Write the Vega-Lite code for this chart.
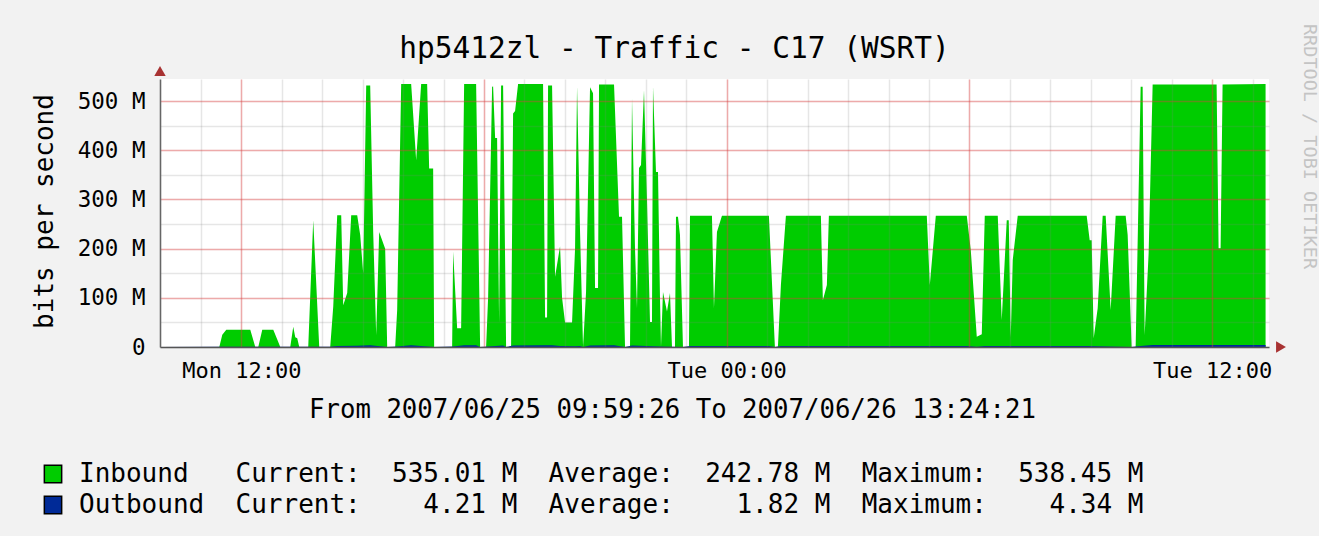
{
  "$schema": "https://vega.github.io/schema/vega-lite/v6.json",
  "width": 1109,
  "height": 268,
  "autosize": {"type": "none"},
  "padding": {"left": 160, "top": 79, "right": 50, "bottom": 189},
  "background": "#f2f2f2",
  "config": {
    "font": "DejaVu Sans Mono",
    "view": {"stroke": null, "fill": "#ffffff"}
  },
  "title": {
    "text": "hp5412zl - Traffic - C17 (WSRT)",
    "font": "DejaVu Sans Mono",
    "fontSize": 29.5,
    "fontWeight": "normal",
    "color": "#000000",
    "anchor": "middle",
    "frame": "group",
    "dx": -40,
    "offset": -41
  },
  "datasets": {
    "inbound": [
      {"t": "2007-06-25T09:59:26", "v": 0},
      {"t": "2007-06-25T11:27:23", "v": 0},
      {"t": "2007-06-25T11:31:50", "v": 25},
      {"t": "2007-06-25T11:37:46", "v": 35},
      {"t": "2007-06-25T12:13:20", "v": 35},
      {"t": "2007-06-25T12:20:45", "v": 0},
      {"t": "2007-06-25T12:25:12", "v": 0},
      {"t": "2007-06-25T12:31:08", "v": 35},
      {"t": "2007-06-25T12:47:26", "v": 35},
      {"t": "2007-06-25T12:53:22", "v": 15},
      {"t": "2007-06-25T12:57:48", "v": 0},
      {"t": "2007-06-25T13:12:38", "v": 0},
      {"t": "2007-06-25T13:17:04", "v": 41},
      {"t": "2007-06-25T13:20:02", "v": 20},
      {"t": "2007-06-25T13:23:00", "v": 18},
      {"t": "2007-06-25T13:25:58", "v": 0},
      {"t": "2007-06-25T13:39:18", "v": 0},
      {"t": "2007-06-25T13:46:43", "v": 258},
      {"t": "2007-06-25T13:55:37", "v": 0},
      {"t": "2007-06-25T14:11:55", "v": 0},
      {"t": "2007-06-25T14:16:22", "v": 82},
      {"t": "2007-06-25T14:22:17", "v": 268},
      {"t": "2007-06-25T14:28:13", "v": 268},
      {"t": "2007-06-25T14:31:11", "v": 85},
      {"t": "2007-06-25T14:37:07", "v": 110},
      {"t": "2007-06-25T14:43:02", "v": 268},
      {"t": "2007-06-25T14:51:56", "v": 268},
      {"t": "2007-06-25T14:56:23", "v": 228},
      {"t": "2007-06-25T15:00:50", "v": 150},
      {"t": "2007-06-25T15:05:17", "v": 532},
      {"t": "2007-06-25T15:11:12", "v": 532},
      {"t": "2007-06-25T15:15:39", "v": 234},
      {"t": "2007-06-25T15:20:06", "v": 24},
      {"t": "2007-06-25T15:24:32", "v": 234},
      {"t": "2007-06-25T15:33:26", "v": 200},
      {"t": "2007-06-25T15:36:24", "v": 0},
      {"t": "2007-06-25T15:48:16", "v": 0},
      {"t": "2007-06-25T15:51:13", "v": 75},
      {"t": "2007-06-25T15:57:09", "v": 535},
      {"t": "2007-06-25T16:11:58", "v": 535},
      {"t": "2007-06-25T16:19:23", "v": 380},
      {"t": "2007-06-25T16:26:48", "v": 535},
      {"t": "2007-06-25T16:35:41", "v": 535},
      {"t": "2007-06-25T16:38:39", "v": 363},
      {"t": "2007-06-25T16:44:35", "v": 363},
      {"t": "2007-06-25T16:46:04", "v": 0},
      {"t": "2007-06-25T17:12:44", "v": 0},
      {"t": "2007-06-25T17:14:14", "v": 194},
      {"t": "2007-06-25T17:20:10", "v": 38},
      {"t": "2007-06-25T17:26:05", "v": 38},
      {"t": "2007-06-25T17:30:32", "v": 535},
      {"t": "2007-06-25T17:48:19", "v": 535},
      {"t": "2007-06-25T17:54:15", "v": 0},
      {"t": "2007-06-25T18:03:08", "v": 0},
      {"t": "2007-06-25T18:06:06", "v": 100},
      {"t": "2007-06-25T18:12:02", "v": 529},
      {"t": "2007-06-25T18:13:31", "v": 530},
      {"t": "2007-06-25T18:16:29", "v": 425},
      {"t": "2007-06-25T18:19:26", "v": 425},
      {"t": "2007-06-25T18:22:25", "v": 50},
      {"t": "2007-06-25T18:25:22", "v": 532},
      {"t": "2007-06-25T18:28:20", "v": 532},
      {"t": "2007-06-25T18:32:47", "v": 0},
      {"t": "2007-06-25T18:40:11", "v": 0},
      {"t": "2007-06-25T18:43:10", "v": 475},
      {"t": "2007-06-25T18:46:07", "v": 480},
      {"t": "2007-06-25T18:50:34", "v": 535},
      {"t": "2007-06-25T19:27:37", "v": 535},
      {"t": "2007-06-25T19:30:35", "v": 60},
      {"t": "2007-06-25T19:33:33", "v": 60},
      {"t": "2007-06-25T19:35:02", "v": 532},
      {"t": "2007-06-25T19:40:58", "v": 532},
      {"t": "2007-06-25T19:45:25", "v": 143},
      {"t": "2007-06-25T19:52:49", "v": 205},
      {"t": "2007-06-25T19:55:47", "v": 100},
      {"t": "2007-06-25T20:00:14", "v": 50},
      {"t": "2007-06-25T20:10:37", "v": 50},
      {"t": "2007-06-25T20:15:03", "v": 200},
      {"t": "2007-06-25T20:18:01", "v": 530},
      {"t": "2007-06-25T20:22:28", "v": 234},
      {"t": "2007-06-25T20:26:55", "v": 0},
      {"t": "2007-06-25T20:31:22", "v": 112},
      {"t": "2007-06-25T20:37:17", "v": 528},
      {"t": "2007-06-25T20:41:44", "v": 516},
      {"t": "2007-06-25T20:44:42", "v": 120},
      {"t": "2007-06-25T20:49:09", "v": 120},
      {"t": "2007-06-25T20:50:38", "v": 534},
      {"t": "2007-06-25T21:12:52", "v": 534},
      {"t": "2007-06-25T21:20:16", "v": 265},
      {"t": "2007-06-25T21:24:43", "v": 265},
      {"t": "2007-06-25T21:29:10", "v": 0},
      {"t": "2007-06-25T21:36:35", "v": 0},
      {"t": "2007-06-25T21:39:32", "v": 506},
      {"t": "2007-06-25T21:43:59", "v": 200},
      {"t": "2007-06-25T21:46:57", "v": 79},
      {"t": "2007-06-25T21:49:55", "v": 364},
      {"t": "2007-06-25T21:52:53", "v": 370},
      {"t": "2007-06-25T21:57:20", "v": 522},
      {"t": "2007-06-25T22:01:46", "v": 300},
      {"t": "2007-06-25T22:06:13", "v": 51},
      {"t": "2007-06-25T22:09:11", "v": 51},
      {"t": "2007-06-25T22:10:40", "v": 530},
      {"t": "2007-06-25T22:15:07", "v": 356},
      {"t": "2007-06-25T22:18:05", "v": 356},
      {"t": "2007-06-25T22:21:02", "v": 100},
      {"t": "2007-06-25T22:22:31", "v": 0},
      {"t": "2007-06-25T22:25:29", "v": 112},
      {"t": "2007-06-25T22:31:25", "v": 72},
      {"t": "2007-06-25T22:35:52", "v": 110},
      {"t": "2007-06-25T22:38:50", "v": 0},
      {"t": "2007-06-25T22:43:16", "v": 0},
      {"t": "2007-06-25T22:44:46", "v": 265},
      {"t": "2007-06-25T22:47:43", "v": 265},
      {"t": "2007-06-25T22:50:41", "v": 228},
      {"t": "2007-06-25T22:55:08", "v": 0},
      {"t": "2007-06-25T23:04:02", "v": 0},
      {"t": "2007-06-25T23:05:31", "v": 267},
      {"t": "2007-06-25T23:38:07", "v": 267},
      {"t": "2007-06-25T23:41:05", "v": 79},
      {"t": "2007-06-25T23:45:32", "v": 234},
      {"t": "2007-06-25T23:52:56", "v": 267},
      {"t": "2007-06-26T01:02:36", "v": 267},
      {"t": "2007-06-26T01:11:29", "v": 0},
      {"t": "2007-06-26T01:15:56", "v": 0},
      {"t": "2007-06-26T01:20:23", "v": 126},
      {"t": "2007-06-26T01:27:48", "v": 267},
      {"t": "2007-06-26T02:19:41", "v": 267},
      {"t": "2007-06-26T02:22:38", "v": 95},
      {"t": "2007-06-26T02:28:34", "v": 126},
      {"t": "2007-06-26T02:31:32", "v": 267},
      {"t": "2007-06-26T04:56:47", "v": 267},
      {"t": "2007-06-26T05:01:14", "v": 126},
      {"t": "2007-06-26T05:10:08", "v": 267},
      {"t": "2007-06-26T05:56:05", "v": 267},
      {"t": "2007-06-26T06:02:01", "v": 197},
      {"t": "2007-06-26T06:10:54", "v": 21},
      {"t": "2007-06-26T06:18:19", "v": 26},
      {"t": "2007-06-26T06:22:46", "v": 267},
      {"t": "2007-06-26T06:42:02", "v": 267},
      {"t": "2007-06-26T06:47:57", "v": 55},
      {"t": "2007-06-26T06:55:22", "v": 258},
      {"t": "2007-06-26T06:58:20", "v": 258},
      {"t": "2007-06-26T07:01:18", "v": 20},
      {"t": "2007-06-26T07:04:16", "v": 177},
      {"t": "2007-06-26T07:11:40", "v": 267},
      {"t": "2007-06-26T08:53:56", "v": 267},
      {"t": "2007-06-26T08:58:23", "v": 217},
      {"t": "2007-06-26T09:01:21", "v": 217},
      {"t": "2007-06-26T09:04:19", "v": 18},
      {"t": "2007-06-26T09:10:15", "v": 79},
      {"t": "2007-06-26T09:17:40", "v": 267},
      {"t": "2007-06-26T09:22:06", "v": 267},
      {"t": "2007-06-26T09:29:31", "v": 75},
      {"t": "2007-06-26T09:36:56", "v": 267},
      {"t": "2007-06-26T09:51:45", "v": 267},
      {"t": "2007-06-26T09:54:43", "v": 228},
      {"t": "2007-06-26T10:00:38", "v": 0},
      {"t": "2007-06-26T10:06:34", "v": 0},
      {"t": "2007-06-26T10:09:32", "v": 214},
      {"t": "2007-06-26T10:13:59", "v": 529},
      {"t": "2007-06-26T10:16:56", "v": 529},
      {"t": "2007-06-26T10:19:55", "v": 24},
      {"t": "2007-06-26T10:25:50", "v": 191},
      {"t": "2007-06-26T10:31:46", "v": 534},
      {"t": "2007-06-26T12:06:38", "v": 534},
      {"t": "2007-06-26T12:09:35", "v": 201},
      {"t": "2007-06-26T12:12:34", "v": 201},
      {"t": "2007-06-26T12:15:31", "v": 534},
      {"t": "2007-06-26T13:19:16", "v": 535}
    ],
    "outbound": [
      {"t": "2007-06-25T09:59:26", "v": 0},
      {"t": "2007-06-25T11:27:23", "v": 0.3},
      {"t": "2007-06-25T12:20:45", "v": 0.3},
      {"t": "2007-06-25T14:11:55", "v": 0.3},
      {"t": "2007-06-25T14:22:17", "v": 2},
      {"t": "2007-06-25T14:51:56", "v": 2.5},
      {"t": "2007-06-25T15:11:12", "v": 3.5},
      {"t": "2007-06-25T15:36:24", "v": 0},
      {"t": "2007-06-25T15:51:13", "v": 1},
      {"t": "2007-06-25T16:11:58", "v": 3.5},
      {"t": "2007-06-25T16:46:04", "v": 0},
      {"t": "2007-06-25T17:14:14", "v": 1},
      {"t": "2007-06-25T17:30:32", "v": 3.5},
      {"t": "2007-06-25T17:48:19", "v": 3.5},
      {"t": "2007-06-25T17:54:15", "v": 0},
      {"t": "2007-06-25T18:06:06", "v": 1},
      {"t": "2007-06-25T18:28:20", "v": 3},
      {"t": "2007-06-25T18:32:47", "v": 0},
      {"t": "2007-06-25T18:43:10", "v": 3},
      {"t": "2007-06-25T19:27:37", "v": 3.5},
      {"t": "2007-06-25T19:40:58", "v": 3.5},
      {"t": "2007-06-25T19:52:49", "v": 2},
      {"t": "2007-06-25T20:15:03", "v": 1.5},
      {"t": "2007-06-25T20:22:28", "v": 2},
      {"t": "2007-06-25T20:26:55", "v": 0},
      {"t": "2007-06-25T20:37:17", "v": 3},
      {"t": "2007-06-25T21:12:52", "v": 3.5},
      {"t": "2007-06-25T21:29:10", "v": 0},
      {"t": "2007-06-25T21:39:32", "v": 3},
      {"t": "2007-06-25T22:21:02", "v": 1},
      {"t": "2007-06-25T22:55:08", "v": 0},
      {"t": "2007-06-25T23:05:31", "v": 1.8},
      {"t": "2007-06-26T01:02:36", "v": 1.8},
      {"t": "2007-06-26T01:11:29", "v": 0},
      {"t": "2007-06-26T01:20:23", "v": 1.8},
      {"t": "2007-06-26T05:56:05", "v": 1.8},
      {"t": "2007-06-26T06:10:54", "v": 0.3},
      {"t": "2007-06-26T06:22:46", "v": 1.8},
      {"t": "2007-06-26T08:53:56", "v": 1.8},
      {"t": "2007-06-26T10:00:38", "v": 0},
      {"t": "2007-06-26T10:09:32", "v": 1.5},
      {"t": "2007-06-26T10:31:46", "v": 4.2},
      {"t": "2007-06-26T13:19:16", "v": 4.2}
    ]
  },
  "layer": [
    {
      "data": {"name": "inbound"},
      "mark": {"type": "area", "interpolate": "linear", "opacity": 1},
      "encoding": {
        "x": {
          "field": "t",
          "type": "temporal",
          "scale": {
            "domain": [
              {"year": 2007, "month": 6, "date": 25, "hours": 9, "minutes": 59, "seconds": 26},
              {"year": 2007, "month": 6, "date": 26, "hours": 13, "minutes": 24, "seconds": 21}
            ]
          },
          "axis": {
            "orient": "bottom",
            "values": [
              {"year": 2007, "month": 6, "date": 25, "hours": 10},
              {"year": 2007, "month": 6, "date": 25, "hours": 11},
              {"year": 2007, "month": 6, "date": 25, "hours": 12},
              {"year": 2007, "month": 6, "date": 25, "hours": 13},
              {"year": 2007, "month": 6, "date": 25, "hours": 14},
              {"year": 2007, "month": 6, "date": 25, "hours": 15},
              {"year": 2007, "month": 6, "date": 25, "hours": 16},
              {"year": 2007, "month": 6, "date": 25, "hours": 17},
              {"year": 2007, "month": 6, "date": 25, "hours": 18},
              {"year": 2007, "month": 6, "date": 25, "hours": 19},
              {"year": 2007, "month": 6, "date": 25, "hours": 20},
              {"year": 2007, "month": 6, "date": 25, "hours": 21},
              {"year": 2007, "month": 6, "date": 25, "hours": 22},
              {"year": 2007, "month": 6, "date": 25, "hours": 23},
              {"year": 2007, "month": 6, "date": 26, "hours": 0},
              {"year": 2007, "month": 6, "date": 26, "hours": 1},
              {"year": 2007, "month": 6, "date": 26, "hours": 2},
              {"year": 2007, "month": 6, "date": 26, "hours": 3},
              {"year": 2007, "month": 6, "date": 26, "hours": 4},
              {"year": 2007, "month": 6, "date": 26, "hours": 5},
              {"year": 2007, "month": 6, "date": 26, "hours": 6},
              {"year": 2007, "month": 6, "date": 26, "hours": 7},
              {"year": 2007, "month": 6, "date": 26, "hours": 8},
              {"year": 2007, "month": 6, "date": 26, "hours": 9},
              {"year": 2007, "month": 6, "date": 26, "hours": 10},
              {"year": 2007, "month": 6, "date": 26, "hours": 11},
              {"year": 2007, "month": 6, "date": 26, "hours": 12},
              {"year": 2007, "month": 6, "date": 26, "hours": 13}
            ],
            "grid": true,
            "gridColor": "#808080",
            "gridOpacity": 0.2,
            "gridWidth": 1.5,
            "labelExpr": "timeFormat(datum.value, '%H') == '12' || timeFormat(datum.value, '%H') == '00' ? timeFormat(datum.value, '%a %H:%M') : ''",
            "labelFont": "DejaVu Sans Mono",
            "labelFontSize": 22,
            "labelColor": "#000000",
            "labelPadding": 13,
            "labelOverlap": false,
            "labelFlush": false,
            "ticks": false,
            "domain": true,
            "domainColor": "#555555",
            "domainWidth": 1.5,
            "title": "From 2007/06/25 09:59:26 To 2007/06/26 13:24:21",
            "titleFont": "DejaVu Sans Mono",
            "titleFontSize": 25.7,
            "titleFontWeight": "normal",
            "titleColor": "#000000",
            "titleX": 512,
            "titleY": 70,
            "titleAlign": "center",
            "titleBaseline": "alphabetic",
            "zindex": 1
          }
        },
        "y": {
          "field": "v",
          "type": "quantitative",
          "scale": {"domain": [0, 545], "nice": false},
          "axis": {
            "orient": "left",
            "values": [0, 50, 100, 150, 200, 250, 300, 350, 400, 450, 500],
            "grid": true,
            "gridColor": "#808080",
            "gridOpacity": 0.2,
            "gridWidth": 1.5,
            "labelExpr": "datum.value % 100 == 0 ? (datum.value == 0 ? '0' : datum.value + ' M') : ''",
            "labelFont": "DejaVu Sans Mono",
            "labelFontSize": 22.5,
            "labelColor": "#000000",
            "labelPadding": 15,
            "ticks": false,
            "domain": true,
            "domainColor": "#666666",
            "domainWidth": 1.5,
            "title": "bits per second",
            "titleFont": "DejaVu Sans Mono",
            "titleFontSize": 26,
            "titleFontWeight": "normal",
            "titleColor": "#000000",
            "titleAngle": 270,
            "titleX": -108,
            "titleY": 132,
            "titleAlign": "center",
            "titleBaseline": "alphabetic",
            "zindex": 1
          }
        },
        "color": {
          "datum": "Inbound\u00a0\u00a0\u00a0Current:\u00a0\u00a0535.01\u00a0M\u00a0\u00a0Average:\u00a0\u00a0242.78\u00a0M\u00a0\u00a0Maximum:\u00a0\u00a0538.45\u00a0M",
          "scale": {
            "domain": [
              "Inbound\u00a0\u00a0\u00a0Current:\u00a0\u00a0535.01\u00a0M\u00a0\u00a0Average:\u00a0\u00a0242.78\u00a0M\u00a0\u00a0Maximum:\u00a0\u00a0538.45\u00a0M",
              "Outbound\u00a0\u00a0Current:\u00a0\u00a0\u00a0\u00a04.21\u00a0M\u00a0\u00a0Average:\u00a0\u00a0\u00a0\u00a01.82\u00a0M\u00a0\u00a0Maximum:\u00a0\u00a0\u00a0\u00a04.34\u00a0M"
            ],
            "range": ["#00cc00", "#002a97"]
          },
          "legend": {
            "orient": "none",
            "legendX": -120,
            "legendY": 382,
            "title": null,
            "direction": "vertical",
            "symbolType": "square",
            "symbolSize": 300,
            "symbolStrokeColor": "#000000",
            "symbolStrokeWidth": 1.5,
            "symbolOpacity": 1,
            "labelFont": "DejaVu Sans Mono",
            "labelFontSize": 26,
            "labelColor": "#000000",
            "labelOffset": 13,
            "labelLimit": 0,
            "rowPadding": 5
          }
        }
      }
    },
    {
      "data": {"name": "outbound"},
      "mark": {"type": "area", "interpolate": "linear", "opacity": 1},
      "encoding": {
        "x": {
          "field": "t",
          "type": "temporal",
          "axis": {
            "orient": "top",
            "values": [
              {"year": 2007, "month": 6, "date": 25, "hours": 12},
              {"year": 2007, "month": 6, "date": 25, "hours": 18},
              {"year": 2007, "month": 6, "date": 26, "hours": 0},
              {"year": 2007, "month": 6, "date": 26, "hours": 6},
              {"year": 2007, "month": 6, "date": 26, "hours": 12}
            ],
            "grid": true,
            "gridColor": "#ff2020",
            "gridOpacity": 0.3,
            "gridWidth": 1.5,
            "labels": false,
            "ticks": false,
            "domain": false,
            "title": null,
            "zindex": 1
          }
        },
        "y": {
          "field": "v",
          "type": "quantitative",
          "axis": {
            "orient": "right",
            "values": [100, 200, 300, 400, 500],
            "grid": true,
            "gridColor": "#ff2020",
            "gridOpacity": 0.3,
            "gridWidth": 1.5,
            "labels": false,
            "ticks": false,
            "domain": false,
            "title": "RRDTOOL / TOBI OETIKER",
            "titleFont": "DejaVu Sans Mono",
            "titleFontSize": 18.5,
            "titleFontWeight": "normal",
            "titleColor": "#c4c4c4",
            "titleAngle": 90,
            "titleX": 40,
            "titleY": 67,
            "titleAlign": "center",
            "titleBaseline": "middle",
            "zindex": 1
          }
        },
        "color": {"datum": "Outbound\u00a0\u00a0Current:\u00a0\u00a0\u00a0\u00a04.21\u00a0M\u00a0\u00a0Average:\u00a0\u00a0\u00a0\u00a01.82\u00a0M\u00a0\u00a0Maximum:\u00a0\u00a0\u00a0\u00a04.34\u00a0M"}
      }
    },
    {
      "data": {"values": [{"arrow": "y"}]},
      "mark": {"type": "point", "shape": "triangle-up", "filled": true, "color": "#a83232", "size": 130, "opacity": 1, "yOffset": -8},
      "encoding": {
        "x": {"datum": {"year": 2007, "month": 6, "date": 25, "hours": 9, "minutes": 59, "seconds": 26}, "type": "temporal", "axis": null},
        "y": {"datum": 545, "type": "quantitative", "axis": null}
      }
    },
    {
      "data": {"values": [{"arrow": "x"}]},
      "mark": {"type": "point", "shape": "triangle-right", "filled": true, "color": "#a83232", "size": 130, "opacity": 1, "xOffset": 12},
      "encoding": {
        "x": {"datum": {"year": 2007, "month": 6, "date": 26, "hours": 13, "minutes": 24, "seconds": 21}, "type": "temporal", "axis": null},
        "y": {"datum": 0, "type": "quantitative", "axis": null}
      }
    }
  ],
  "resolve": {"axis": {"x": "independent", "y": "independent"}}
}
